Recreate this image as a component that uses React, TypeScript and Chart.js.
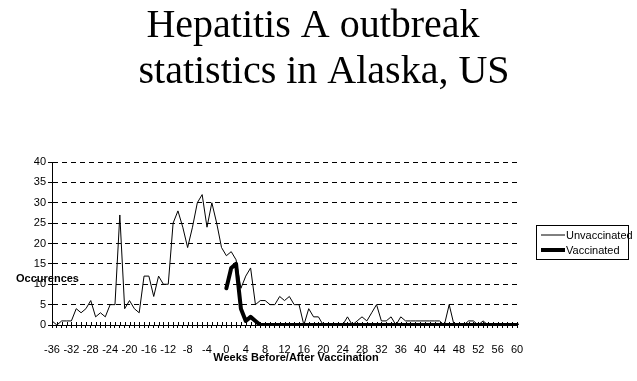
import { useEffect, useRef } from 'react';
import { Chart, registerables } from 'chart.js';

Chart.register(...registerables);

const titleLines = ['Hepatitis A outbreak', 'statistics in Alaska, US'];
const yAxisTitle = 'Occurences';
const xAxisTitle = 'Weeks Before/After Vaccination';

// categories: weeks relative to vaccination
const weeks: number[] = Array.from({ length: 97 }, (_, i) => i - 36);

// weeks -36 .. 60
const unvaccinated = [
  1, 0, 1, 1, 1, 4, 3, 4, 6, 2, 3, 2, 5, 5, 27, 4, 6, 4, 3, 12, 12, 7, 12, 10, 10, 25, 28, 24, 19, 24, 30, 32, 24, 30, 25, 19,
  17, 18, 16, 9, 12, 14, 5, 6, 6, 5, 5, 7, 6, 7, 5, 5, 0, 4, 2, 2,
  0, 0, 0, 0, 0, 2, 0, 1, 2, 1, 3, 5, 1, 1, 2, 0, 2, 1, 1, 1,
  1, 1, 1, 1, 1, 0, 5, 0, 0, 0, 1, 1, 0, 1, 0, 0, 0, 0, 0, 0, 0,
];

// weeks 0 .. 60
const vaccinated = [
  9, 14, 15, 4, 1, 2, 1, 0, 0, 0, 0, 0, 0, 0, 0, 0, 0, 0, 0, 0,
  0, 0, 0, 0, 0, 0, 0, 0, 0, 0, 0, 0, 0, 0, 0, 0, 0, 0, 0, 0,
  0, 0, 0, 0, 0, 0, 0, 0, 0, 0, 0, 0, 0, 0, 0, 0, 0, 0, 0, 0, 0,
];

const yMin = 0;
const yMax = 40;
const yStep = 5;
const xLabelEvery = 4;

const SANS = '"Liberation Sans", Arial, sans-serif';
const SERIF = '"Liberation Serif", "Times New Roman", serif';

export default function App() {
  const ref = useRef<HTMLCanvasElement>(null);

  useEffect(() => {
    const canvas = ref.current;
    if (!canvas) return;

    const overlay = {
      id: 'overlay',
      beforeDatasetsDraw(chart: any) {
        const { ctx, chartArea, scales } = chart;
        const xs = scales.x;
        ctx.save();
        ctx.strokeStyle = '#000';
        ctx.lineWidth = 1;
        ctx.beginPath();
        weeks.forEach((_, i) => {
          const x = Math.round(xs.getPixelForValue(i)) + 0.5;
          ctx.moveTo(x, chartArea.bottom - 3);
          ctx.lineTo(x, chartArea.bottom);
        });
        ctx.stroke();
        ctx.restore();
      },
      afterDraw(chart: any) {
        const { ctx } = chart;
        ctx.save();
        ctx.fillStyle = '#000';
        ctx.strokeStyle = '#000';
        // title
        ctx.font = `40px ${SERIF}`;
        ctx.textAlign = 'center';
        ctx.textBaseline = 'alphabetic';
        ctx.fillText(titleLines[0], 313, 37);
        ctx.fillText(titleLines[1], 324, 83);
        // axis titles
        ctx.font = `bold 11px ${SANS}`;
        ctx.textBaseline = 'middle';
        ctx.textAlign = 'left';
        ctx.fillText(yAxisTitle, 16, 279);
        ctx.textAlign = 'center';
        ctx.fillText(xAxisTitle, 296, 358);
        // legend
        ctx.lineWidth = 1;
        ctx.strokeRect(536.5, 225.5, 92, 34);
        chart.data.datasets.forEach((ds: any, i: number) => {
          const y = 235 + i * 15;
          ctx.beginPath();
          ctx.lineWidth = ds.borderWidth;
          ctx.moveTo(541, y);
          ctx.lineTo(565, y);
          ctx.stroke();
          ctx.font = `11px ${SANS}`;
          ctx.textAlign = 'left';
          ctx.fillText(ds.label, 566, y + 0.5);
        });
        ctx.restore();
      },
    };

    const chart = new Chart(canvas, {
      type: 'line',
      data: {
        labels: weeks.map(String),
        datasets: [
          {
            label: 'Unvaccinated',
            data: unvaccinated,
            borderColor: '#000',
            backgroundColor: '#000',
            borderWidth: 1,
            pointRadius: 0,
            tension: 0,
            fill: false,
          },
          {
            label: 'Vaccinated',
            data: weeks.map((w) => (w < 0 ? null : vaccinated[w])),
            borderColor: '#000',
            backgroundColor: '#000',
            borderWidth: 4,
            pointRadius: 0,
            tension: 0,
            fill: false,
            borderJoinStyle: 'round',
            borderCapStyle: 'round',
          },
        ],
      },
      options: {
        responsive: false,
        animation: false,
        events: [],
        layout: { padding: { top: 162, right: 120, bottom: 0, left: 0 } },
        plugins: {
          legend: { display: false },
          title: { display: false },
          tooltip: { enabled: false },
        },
        scales: {
          x: {
            type: 'category',
            offset: false,
            grid: {
              display: true,
              drawOnChartArea: false,
              drawTicks: true,
              tickLength: 3,
              color: '#000',
              tickColor: '#000',
            },
            border: { display: true, color: '#000', width: 1 },
            ticks: {
              autoSkip: false,
              maxRotation: 0,
              minRotation: 0,
              padding: 15,
              color: '#000',
              font: { family: SANS, size: 11 },
              callback: (_v: any, i: number) => (weeks[i] % xLabelEvery === 0 ? String(weeks[i]) : ''),
            },
            afterFit: (s: any) => {
              s.height = 56;
            },
          },
          y: {
            min: yMin,
            max: yMax,
            ticks: {
              stepSize: yStep,
              color: '#000',
              padding: 2,
              font: { family: SANS, size: 11 },
            },
            grid: {
              color: (c: any) => (c.tick && c.tick.value === 0 ? 'rgba(0,0,0,0)' : '#000'),
              tickColor: '#000',
              tickLength: 4,
              lineWidth: 1,
            },
            border: { display: true, color: '#000', width: 1, dash: [5, 4] },
            afterFit: (s: any) => {
              s.width = 52;
            },
          },
        },
      },
      plugins: [overlay],
    } as any);

    return () => chart.destroy();
  }, []);

  return (
    <div style={{ position: 'absolute', left: 0, top: 0, width: 637, height: 381, background: '#fff' }}>
      <canvas ref={ref} width={637} height={381} style={{ display: 'block' }} />
    </div>
  );
}
